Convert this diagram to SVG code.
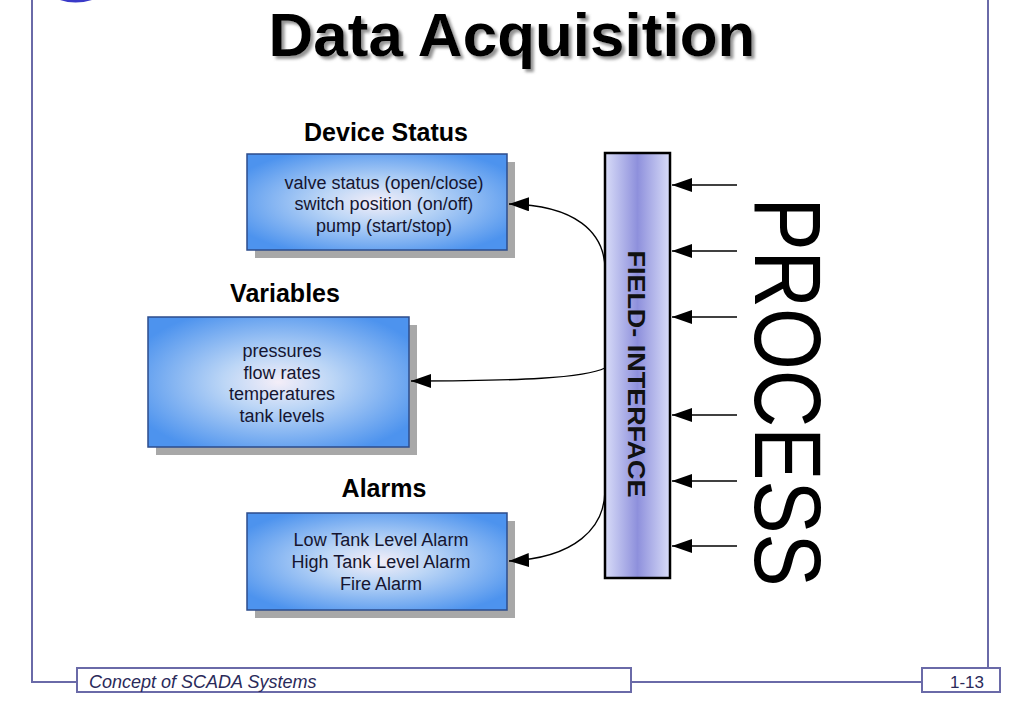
<svg xmlns="http://www.w3.org/2000/svg" width="1024" height="707" viewBox="0 0 1024 707">
<defs>
<radialGradient id="boxg" cx="50%" cy="50%" r="60%">
<stop offset="0" stop-color="#f4eef8"/>
<stop offset="0.35" stop-color="#bcd6f6"/>
<stop offset="1" stop-color="#4d93ee"/>
</radialGradient>
<linearGradient id="barg" x1="0" y1="0" x2="1" y2="0">
<stop offset="0" stop-color="#d8dcf8"/>
<stop offset="0.5" stop-color="#8e90dc"/>
<stop offset="1" stop-color="#d8dcf8"/>
</linearGradient>
<filter id="tshadow" x="-5%" y="-20%" width="110%" height="150%">
<feDropShadow dx="3" dy="3" stdDeviation="1.5" flood-color="#777" flood-opacity="0.8"/>
</filter>
<marker id="ah" markerWidth="20" markerHeight="14" refX="20" refY="7" orient="auto" markerUnits="userSpaceOnUse">
<path d="M0,0 L20,7 L0,14 Z" fill="#000"/>
</marker>
</defs>
<style>
.frame{fill:none;stroke:#6a6aa8;stroke-width:2}
.box{fill:url(#boxg);stroke:#2c4c8c;stroke-width:1.5}
.shadow{fill:#a8a8a8}
.head{font-family:"Liberation Sans",Arial,sans-serif;font-weight:bold;font-size:25px;fill:#000;text-anchor:middle}
.body{font-family:"Liberation Sans",Arial,sans-serif;font-size:18px;fill:#151530;text-anchor:middle}
.conn{fill:none;stroke:#000;stroke-width:1.3}
</style>
<rect width="1024" height="707" fill="#fff"/>
<!-- frame -->
<g id="frame">
<path class="frame" d="M32,0 V682 H77"/>
<path class="frame" d="M631,682 H922"/>
<path class="frame" d="M988,0 V668"/>
<rect class="frame" x="77" y="668" width="554" height="24"/>
<rect class="frame" x="922" y="668" width="78" height="24"/>
<text x="89" y="688" font-family="'Liberation Sans',Arial,sans-serif" font-style="italic" font-size="18" fill="#2a2a5a">Concept of SCADA Systems</text>
<text x="967" y="688" font-family="'Liberation Sans',Arial,sans-serif" font-size="17" fill="#2a2a5a" text-anchor="middle">1-13</text>
<path d="M60,0 Q75,5 92,0 Z" fill="#3a3ac8"/>
</g>
<!-- title -->
<g id="title">
<text x="512" y="56" font-family="'Liberation Sans',Arial,sans-serif" font-weight="bold" font-size="62" fill="#000" text-anchor="middle" filter="url(#tshadow)">Data Acquisition</text>
</g>
<!-- Device Status -->
<g id="device-status">
<text class="head" x="386" y="141">Device Status</text>
<rect class="shadow" x="255" y="162" width="260" height="96"/>
<rect class="box" x="247" y="154" width="260" height="96"/>
<text class="body" x="384" y="189">valve status (open/close)</text>
<text class="body" x="384" y="210">switch position (on/off)</text>
<text class="body" x="384" y="232">pump (start/stop)</text>
</g>
<!-- Variables -->
<g id="variables">
<text class="head" x="285" y="302">Variables</text>
<rect class="shadow" x="156" y="325" width="261" height="130"/>
<rect class="box" x="148" y="317" width="261" height="130"/>
<text class="body" x="282" y="357">pressures</text>
<text class="body" x="282" y="379">flow rates</text>
<text class="body" x="282" y="400">temperatures</text>
<text class="body" x="282" y="422">tank levels</text>
</g>
<!-- Alarms -->
<g id="alarms">
<text class="head" x="384" y="497">Alarms</text>
<rect class="shadow" x="255" y="521" width="260" height="97"/>
<rect class="box" x="247" y="513" width="260" height="97"/>
<text class="body" x="381" y="546">Low Tank Level Alarm</text>
<text class="body" x="381" y="568">High Tank Level Alarm</text>
<text class="body" x="381" y="590">Fire Alarm</text>
</g>
<!-- Field interface -->
<g id="field-interface">
<rect x="605" y="153" width="65" height="425" fill="url(#barg)" stroke="#000" stroke-width="2.5"/>
<text transform="translate(628,374) rotate(90)" font-family="'Liberation Sans',Arial,sans-serif" font-weight="bold" font-size="23" fill="#111" text-anchor="middle" textLength="247" lengthAdjust="spacingAndGlyphs">FIELD- INTERFACE</text>
</g>
<!-- Process -->
<g id="process">
<text transform="translate(755,392) rotate(90)" font-family="'Liberation Sans',Arial,sans-serif" font-size="94" fill="#000" text-anchor="middle" textLength="389" lengthAdjust="spacingAndGlyphs">PROCESS</text>
</g>
<!-- connectors -->
<g id="connectors">
<path class="conn" d="M605,270 C605,232 575,205 509,204" marker-end="url(#ah)"/>
<path class="conn" d="M605,368 C585,378 520,381 411,381" marker-end="url(#ah)"/>
<path class="conn" d="M605,490 C605,528 575,558 509,561" marker-end="url(#ah)"/>
<path class="conn" d="M737,185 H672" marker-end="url(#ah)"/>
<path class="conn" d="M737,251 H672" marker-end="url(#ah)"/>
<path class="conn" d="M737,317 H672" marker-end="url(#ah)"/>
<path class="conn" d="M737,415 H672" marker-end="url(#ah)"/>
<path class="conn" d="M737,481 H672" marker-end="url(#ah)"/>
<path class="conn" d="M737,546 H672" marker-end="url(#ah)"/>
</g>
</svg>
